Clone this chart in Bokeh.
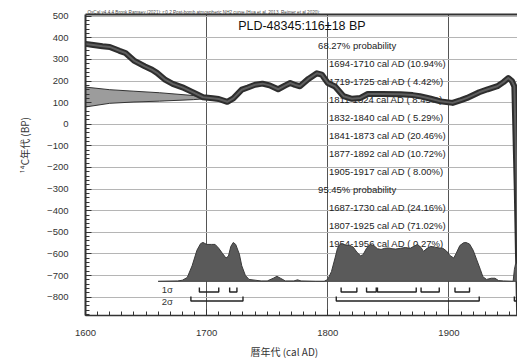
from bokeh.plotting import figure
from bokeh.models import LinearAxis, FixedTicker, Range1d, Title
from bokeh.core.properties import value
from bokeh.embed import file_html
from bokeh.resources import INLINE

# ---------------- data ----------------
curve_year = [1600, 1605, 1614, 1620, 1628, 1633, 1640, 1649, 1655, 1659, 1666, 1672, 1680,
              1688, 1697, 1705, 1710, 1717, 1722, 1729, 1734, 1740, 1746, 1752, 1759, 1765,
              1769, 1773, 1777, 1784, 1791, 1795, 1800, 1806, 1813, 1820, 1827, 1833, 1845,
              1860, 1870, 1876, 1885, 1893, 1903, 1910, 1915, 1925, 1932, 1940, 1945, 1949,
              1952, 1954, 1956, 1958]
curve_bp = [372, 368, 361, 358, 340, 330, 295, 268, 252, 238, 205, 187, 171,
            150, 125, 120, 117, 104, 120, 160, 170, 183, 188, 180, 162, 180,
            191, 182, 176, 210, 236, 230, 191, 175, 130, 118, 122, 140, 140,
            139, 135, 130, 118, 106, 99, 112, 122, 148, 162, 176, 195, 214,
            200, 175, -300, -900]

# measured 14C date profile (BP edges vs. extent in years)
date_bp = [80, 97, 103, 107, 114, 120, 133, 146, 153, 160, 172]
date_year = [1600, 1620, 1640, 1661, 1689, 1703, 1689, 1661, 1640, 1620, 1600]

# calibrated probability density (relative)
dens_year = [1660, 1676, 1680, 1684, 1688, 1692, 1695, 1697, 1700, 1704, 1707, 1710, 1713,
             1716, 1718, 1720, 1722, 1724, 1727, 1729, 1732, 1735, 1740, 1745, 1750, 1755,
             1758, 1761, 1765, 1772, 1775, 1778, 1790, 1797, 1800, 1803, 1806, 1808, 1810,
             1812, 1815, 1818, 1821, 1824, 1827, 1829, 1832, 1835, 1838, 1841, 1844, 1847,
             1850, 1853, 1856, 1860, 1864, 1868, 1871, 1874, 1877, 1879, 1882, 1885, 1888,
             1892, 1895, 1898, 1901, 1904, 1906, 1909, 1912, 1914, 1917, 1920, 1923, 1926,
             1928, 1931, 1935, 1938, 1941, 1945, 1953, 1954, 1955, 1958]
dens_rel = [0.0, 0.01, 0.03, 0.1, 0.4, 0.8, 0.97, 1.0, 0.95, 0.95, 0.95, 0.85, 0.72,
            0.6, 0.65, 0.9, 1.0, 0.95, 0.7, 0.4, 0.15, 0.05, 0.03, 0.01, 0.01, 0.08,
            0.13, 0.08, 0.01, 0.01, 0.04, 0.01, 0.0, 0.0, 0.05, 0.25, 0.6, 0.85, 0.95,
            0.96, 0.93, 0.93, 0.88, 0.75, 0.66, 0.68, 0.85, 0.95, 0.92, 0.84, 0.82, 0.85,
            0.86, 0.84, 0.83, 0.85, 0.87, 0.85, 0.9, 0.95, 0.87, 0.77, 0.85, 0.9, 0.88,
            0.86, 0.85, 0.78, 0.66, 0.6, 0.72, 0.92, 0.99, 1.0, 0.96, 0.8, 0.55, 0.3,
            0.12, 0.05, 0.08, 0.08, 0.02, 0.01, 0.0, 0.3, 0.45, 0.45]

sig1_start = [1694, 1719, 1811, 1832, 1841, 1877, 1905]
sig1_end = [1710, 1725, 1824, 1840, 1873, 1892, 1917]
sig2_start = [1687, 1807, 1954]
sig2_end = [1730, 1925, 1956]

head68 = "68.27% probability"
ranges68 = ["1694-1710 cal AD (10.94%)", "1719-1725 cal AD ( 4.42%)",
            "1811-1824 cal AD ( 8.45%)", "1832-1840 cal AD ( 5.29%)",
            "1841-1873 cal AD (20.46%)", "1877-1892 cal AD (10.72%)",
            "1905-1917 cal AD ( 8.00%)"]
head95 = "95.45% probability"
ranges95 = ["1687-1730 cal AD (24.16%)", "1807-1925 cal AD (71.02%)",
            "1954-1956 cal AD ( 0.27%)"]

sample_title = "PLD-48345:116\u00b118 BP"
header = ("OxCal v4.4.4 Bronk Ramsey (2021); r:0.2 Post-bomb atmospheric NH2 curve "
          "(Hua et al. 2013, Reimer et al 2020);")
x_label = "暦年代 (cal AD)"
y_label = "¹⁴C年代 (BP)"

y_ticks = list(range(-800, 501, 100))
x_ticks = [1600, 1700, 1800, 1900]
x_grid = [1700, 1800, 1900]

# ---------------- layout/style ----------------
NUM = "Liberation Sans"
JP = "Noto Sans CJK JP"
DARK = "#333333"

p = figure(width=517, height=362, x_range=Range1d(1600, 1956.6), y_range=Range1d(-885, 508),
           output_backend="svg", toolbar_location=None,
           min_border_left=85, min_border_right=0, min_border_top=14, min_border_bottom=47)
p.outline_line_color = None
p.background_fill_color = "white"

# axes
p.xaxis.ticker = FixedTicker(ticks=x_ticks, minor_ticks=list(range(1600, 1961, 10)))
p.yaxis.ticker = FixedTicker(ticks=y_ticks, minor_ticks=list(range(-880, 501, 20)))
for ax in (p.xaxis[0], p.yaxis[0]):
    ax.major_tick_out = 0
    ax.major_tick_in = 6
    ax.minor_tick_out = 0
    ax.minor_tick_in = 4
    ax.major_tick_line_color = DARK
    ax.minor_tick_line_color = DARK
    ax.axis_line_color = DARK
    ax.major_label_text_font = NUM
    ax.major_label_text_font_size = "9.5px"
    ax.major_label_text_color = DARK
p.yaxis.axis_line_width = 2
p.xaxis.axis_line_width = 1.5
p.yaxis.major_label_standoff = 17
p.xaxis.major_label_standoff = 14

top = LinearAxis(ticker=FixedTicker(ticks=[]), major_label_text_font_size="0px",
                 major_tick_in=0, major_tick_out=0, minor_tick_in=0, minor_tick_out=0,
                 axis_line_width=2, axis_line_color=DARK)
p.add_layout(top, "above")

# axis titles and header as Titles (positioned precisely)
p.add_layout(Title(text=x_label, align="left", offset=165, standoff=7,
                   text_font=JP, text_font_size="10px", text_font_style="normal",
                   text_color=DARK), "below")
p.add_layout(Title(text=y_label, align="left", offset=142, standoff=26,
                   text_font=JP, text_font_size="10px", text_font_style="normal",
                   text_color=DARK), "left")
p.add_layout(Title(text=header, align="left", offset=2, standoff=0,
                   text_font=NUM, text_font_size="4.6px", text_font_style="normal",
                   text_color="#444444"), "above")

# grids
p.xgrid.ticker = FixedTicker(ticks=x_grid)
p.xgrid.grid_line_color = "#555555"
p.xgrid.grid_line_width = 1
p.ygrid.ticker = FixedTicker(ticks=y_ticks)
p.ygrid.grid_line_color = "#b5b5b5"
p.ygrid.grid_line_width = 1

# probability text (drawn first so curves overlay it)
row_top = 365.0
row_step = 83.3
head_x = 1792
range_x = 1801
tx, ty, tt = [], [], []
rows = [(head_x, head68)] + [(range_x, s) for s in ranges68] + \
       [(head_x, head95)] + [(range_x, s) for s in ranges95]
for i, (xx, s) in enumerate(rows):
    tx.append(xx)
    ty.append(row_top - row_step * i)
    tt.append(s)
p.text(x=tx, y=ty, text=tt, text_font=value(NUM), text_font_size="9.5px",
       text_baseline="middle", text_align="left", text_color="#222222")

p.text(x=[1726], y=[457], text=[sample_title], text_font=value(NUM),
       text_font_size="12.5px", text_baseline="middle", text_align="left",
       text_color="#111111")

# measured date profile
p.patch(date_year, date_bp, fill_color="#9c9c9c", line_color=DARK, line_width=1)

# calibration curve band
p.line(curve_year, curve_bp, line_width=6, line_color="#2e2e2e", line_join="round")
p.line(curve_year, curve_bp, line_width=2, line_color="#5e5e5e", line_join="round")

# calibrated distribution
base = -727
scale = 180
dens_top = [base + r * scale for r in dens_rel]
p.varea(x=dens_year, y1=[base] * len(dens_year), y2=dens_top, fill_color="#5a5a5a")
p.line(dens_year, dens_top, line_color="#3a3a3a", line_width=1)
p.line([dens_year[0], dens_year[-1]], [base, base], line_color="#444444", line_width=1)

# sigma brackets
def brackets(starts, ends, ytop, ybot):
    xs, ys = [], []
    for a, b in zip(starts, ends):
        xs.append([a, a, b, b])
        ys.append([ytop, ybot, ybot, ytop])
    return xs, ys

xs1, ys1 = brackets(sig1_start, sig1_end, -755, -776)
xs2, ys2 = brackets(sig2_start, sig2_end, -797, -818)
p.multi_line(xs1, ys1, line_color="#222222", line_width=1.4)
p.multi_line(xs2, ys2, line_color="#222222", line_width=1.4)

p.text(x=[1667.5, 1667.5], y=[-764, -820], text=["1σ", "2σ"], text_font=value(NUM),
       text_font_size="9.5px", text_baseline="middle", text_align="center",
       text_color="#333333")

open("out.html", "w").write(file_html(p, INLINE))
